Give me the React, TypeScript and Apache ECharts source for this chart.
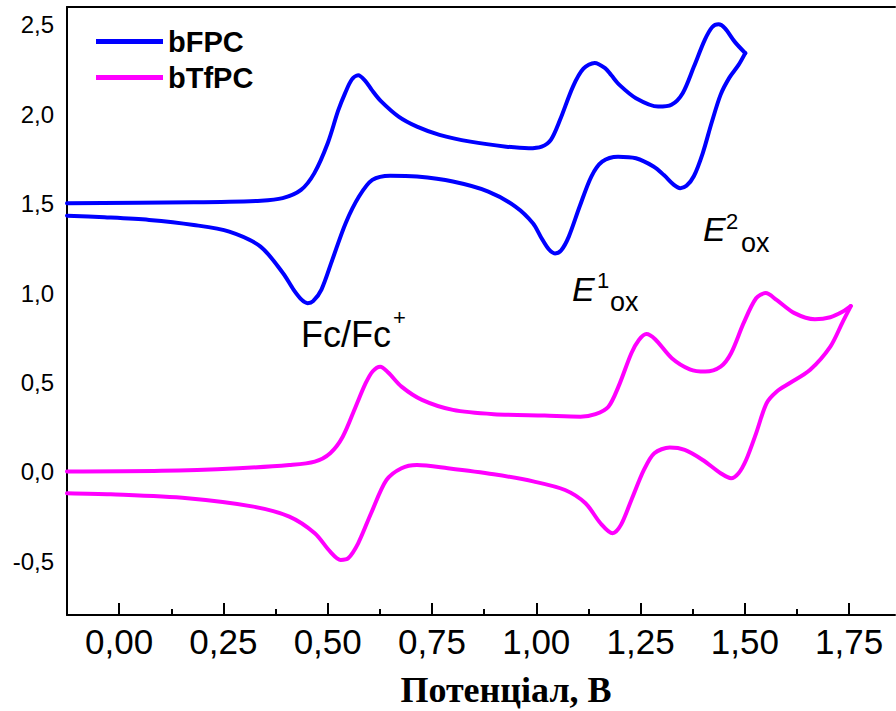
import React, { useEffect, useRef } from "react";
import * as echarts from "echarts";

// Forward (anodic) and reverse (cathodic) scans, [potential V, current a.u.]
const bfpcForward: [number, number][] = [
  [-0.125, 1.503], [0.179, 1.508], [0.34, 1.517], [0.392, 1.531], [0.436, 1.577],
  [0.468, 1.671], [0.5, 1.838], [0.525, 2.02], [0.542, 2.12], [0.558, 2.195],
  [0.573, 2.218], [0.589, 2.19], [0.606, 2.135], [0.627, 2.075],
  [0.67, 1.987], [0.714, 1.931], [0.768, 1.885], [0.842, 1.847], [0.928, 1.819],
  [0.982, 1.81], [1.013, 1.819], [1.035, 1.857], [1.057, 1.969], [1.088, 2.155],
  [1.113, 2.255], [1.14, 2.287], [1.165, 2.258], [1.18, 2.218],
  [1.2, 2.163], [1.239, 2.09], [1.292, 2.043], [1.324, 2.053], [1.351, 2.118],
  [1.378, 2.267], [1.404, 2.416], [1.422, 2.488], [1.437, 2.503], [1.452, 2.482],
  [1.476, 2.405], [1.501, 2.342],
];
const bfpcReverse: [number, number][] = [
  [1.501, 2.342], [1.485, 2.276], [1.463, 2.205], [1.442, 2.11], [1.42, 1.95],
  [1.399, 1.782], [1.378, 1.655], [1.36, 1.6], [1.345, 1.587], [1.33, 1.605],
  [1.306, 1.66], [1.281, 1.708], [1.239, 1.754], [1.196, 1.763], [1.158, 1.735],
  [1.132, 1.652], [1.104, 1.484], [1.078, 1.316], [1.06, 1.24], [1.045, 1.222],
  [1.03, 1.245], [1.012, 1.31], [0.992, 1.391], [0.95, 1.484], [0.885, 1.568],
  [0.8, 1.624], [0.714, 1.652], [0.65, 1.657], [0.607, 1.633], [0.575, 1.54],
  [0.543, 1.391], [0.511, 1.186], [0.485, 1.02], [0.465, 0.955], [0.452, 0.944],
  [0.438, 0.962], [0.418, 1.02], [0.393, 1.111], [0.339, 1.26], [0.264, 1.344],
  [0.179, 1.381], [0.072, 1.409], [-0.035, 1.424], [-0.125, 1.433],
];
const btfpcForward: [number, number][] = [
  [-0.125, 0.002], [0.102, 0.006], [0.286, 0.021], [0.408, 0.039], [0.469, 0.058],
  [0.506, 0.105], [0.536, 0.197], [0.567, 0.365], [0.591, 0.496], [0.608, 0.563],
  [0.626, 0.588], [0.645, 0.556], [0.677, 0.477], [0.726, 0.403],
  [0.8, 0.347], [0.898, 0.323], [1.02, 0.315], [1.106, 0.309], [1.142, 0.323],
  [1.173, 0.365], [1.197, 0.477], [1.228, 0.664], [1.246, 0.738], [1.264, 0.771],
  [1.285, 0.742], [1.325, 0.636], [1.368, 0.574], [1.405, 0.561],
  [1.442, 0.589], [1.467, 0.664], [1.497, 0.832], [1.527, 0.971], [1.55, 1.0],
  [1.576, 0.962], [1.619, 0.888], [1.668, 0.854], [1.705, 0.865],
  [1.735, 0.897], [1.754, 0.928],
];
const btfpcReverse: [number, number][] = [
  [1.754, 0.928], [1.735, 0.841], [1.705, 0.701], [1.656, 0.57], [1.607, 0.496],
  [1.576, 0.449], [1.552, 0.384], [1.527, 0.216], [1.503, 0.067], [1.485, -0.007],
  [1.467, -0.035], [1.442, -0.007], [1.399, 0.067], [1.356, 0.123], [1.32, 0.136],
  [1.283, 0.105], [1.258, 0.011], [1.228, -0.157], [1.203, -0.296], [1.183, -0.343],
  [1.154, -0.287], [1.118, -0.175], [1.069, -0.101], [0.995, -0.054], [0.898, -0.013],
  [0.788, 0.021], [0.714, 0.039], [0.677, 0.021], [0.641, -0.045], [0.604, -0.231],
  [0.573, -0.399], [0.549, -0.483], [0.531, -0.492], [0.506, -0.446], [0.469, -0.343],
  [0.408, -0.25], [0.322, -0.194], [0.164, -0.147], [-0.02, -0.125], [-0.125, -0.119],
];

const seriesNames = ["bFPC", "bTfPC"];
const seriesColors = ["#0000ff", "#ff00ff"];
const xMajorTicks = [0, 0.25, 0.5, 0.75, 1, 1.25, 1.5, 1.75];
const xMinorTicks = [0.125, 0.375, 0.625, 0.875, 1.125, 1.375, 1.625];
const yTicks = [-0.5, 0, 0.5, 1, 1.5, 2, 2.5];
const xTitle = "Потенціал, В";

const X_MIN = -0.125;
const X_MAX = 1.86;
const Y_MIN = -0.8;
const Y_MAX = 2.6;

const SANS = "'Liberation Sans', Arial, sans-serif";
const SERIF = "'Liberation Serif', 'Times New Roman', serif";

export default function App() {
  const ref = useRef<HTMLDivElement>(null);

  useEffect(() => {
    if (!ref.current) return;
    const chart = echarts.init(ref.current, undefined, { renderer: "svg" });

    const axisLineStyle = { color: "#000", width: 2 };
    const txt = (
      text: string,
      x: number,
      y: number,
      size: number,
      extra: Record<string, unknown> = {}
    ) => ({
      type: "text",
      x,
      y,
      style: {
        text,
        fill: "#000",
        fontSize: size,
        fontFamily: SANS,
        align: "left",
        verticalAlign: "middle",
        ...extra,
      },
    });

    const branch = (name: string, color: string, data: [number, number][]) => ({
      name,
      type: "line",
      xAxisIndex: 0,
      data,
      showSymbol: false,
      smooth: 0.3,
      color,
      lineStyle: { width: 4, color, cap: "round", join: "round" },
    });

    chart.setOption({
      animation: false,
      backgroundColor: "#fff",
      grid: { left: 67, top: 7, right: 1, bottom: 96, containLabel: false },
      legend: {
        data: seriesNames,
        orient: "vertical",
        left: 96,
        top: 27,
        padding: 0,
        itemWidth: 67,
        itemHeight: 5,
        itemGap: 7,
        icon: "rect",
        textStyle: {
          fontFamily: SANS,
          fontWeight: "bold",
          fontSize: 29,
          color: "#000",
        },
      },
      xAxis: [
        {
          type: "value",
          position: "bottom",
          min: X_MIN,
          max: X_MAX,
          axisLine: { show: true, onZero: false, lineStyle: axisLineStyle },
          axisTick: {
            show: true,
            inside: true,
            length: 12,
            customValues: xMajorTicks,
            lineStyle: { color: "#000", width: 2 },
          },
          axisLabel: {
            customValues: xMajorTicks,
            formatter: (v: number) => v.toFixed(2).replace(".", ","),
            fontFamily: SANS,
            fontSize: 35,
            color: "#000",
            margin: 9,
          },
          splitLine: { show: false },
        },
        {
          type: "value",
          position: "bottom",
          min: X_MIN,
          max: X_MAX,
          axisLine: { show: false, onZero: false },
          axisTick: {
            show: true,
            inside: true,
            length: 6,
            customValues: xMinorTicks,
            lineStyle: { color: "#000", width: 2 },
          },
          axisLabel: { show: false },
          splitLine: { show: false },
        },
        {
          type: "value",
          position: "top",
          min: X_MIN,
          max: X_MAX,
          axisLine: { show: true, onZero: false, lineStyle: axisLineStyle },
          axisTick: { show: false },
          axisLabel: { show: false },
          splitLine: { show: false },
        },
      ],
      yAxis: {
        type: "value",
        min: Y_MIN,
        max: Y_MAX,
        axisLine: { show: true, onZero: false, lineStyle: axisLineStyle },
        axisTick: { show: false },
        axisLabel: {
          customValues: yTicks,
          formatter: (v: number) => v.toFixed(1).replace(".", ","),
          fontFamily: SANS,
          fontSize: 24,
          color: "#000",
          margin: 13,
        },
        splitLine: { show: false },
      },
      series: [
        branch(seriesNames[0], seriesColors[0], bfpcForward),
        branch(seriesNames[0], seriesColors[0], bfpcReverse),
        branch(seriesNames[1], seriesColors[1], btfpcForward),
        branch(seriesNames[1], seriesColors[1], btfpcReverse),
      ],
      graphic: [
        txt("Fc/Fc", 301, 334, 36),
        txt("+", 393, 317, 22),
        txt("E", 572, 289, 34, { fontStyle: "italic" }),
        txt("1", 597, 280, 22),
        txt("ox", 610, 302, 27),
        txt("E", 703, 229, 34, { fontStyle: "italic" }),
        txt("2", 726, 221, 22),
        txt("ox", 741, 243, 27),
        {
          type: "text",
          x: 506,
          y: 690,
          style: {
            text: xTitle,
            fill: "#000",
            fontSize: 36,
            fontWeight: "bold",
            fontFamily: SERIF,
            align: "center",
            verticalAlign: "middle",
          },
        },
      ],
    });

    return () => chart.dispose();
  }, []);

  return (
    <div
      ref={ref}
      style={{ position: "fixed", left: 0, top: 0, width: 896, height: 711 }}
    />
  );
}
